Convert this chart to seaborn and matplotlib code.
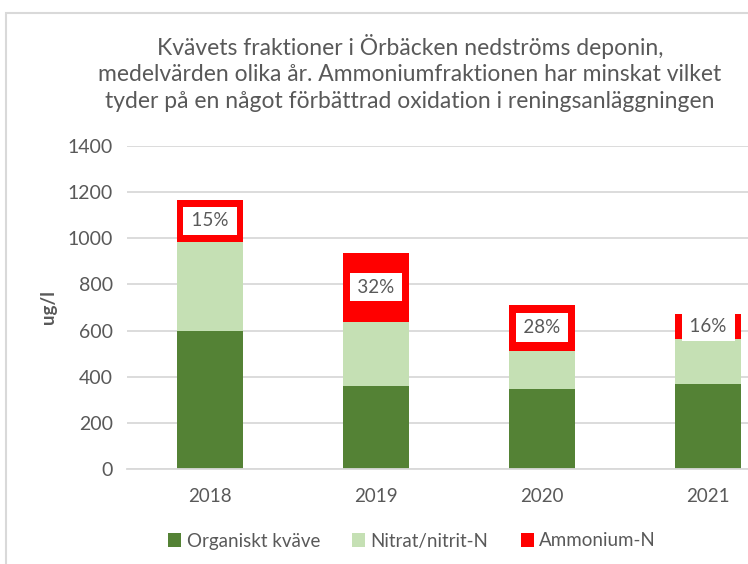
import numpy as np
import pandas as pd
import seaborn as sns
from matplotlib import pyplot as plt
from matplotlib.patches import Patch, Rectangle

# data (ug/l)
years = ['2018', '2019', '2020', '2021']
organiskt = [600, 360, 347, 370]
nitrat = [385, 278, 166, 193]
ammonium = [180, 300, 200, 108]
pct_labels = ['15%', '32%', '28%', '16%']

series_names = ['Organiskt kväve', 'Nitrat/nitrit-N', 'Ammonium-N']
colors = ['#548235', '#C5E0B4', '#FF0000']

title = ("Kvävets fraktioner i Örbäcken nedströms deponin,\n"
         "medelvärden olika år. Ammoniumfraktionen har minskat vilket\n"
         "tyder på en något förbättrad oxidation i reningsanläggningen")

sns.set_style("white")
plt.rcParams['font.family'] = ['Lato', 'DejaVu Sans']
text_col = '#595959'
grid_col = '#D9D9D9'

df = pd.DataFrame({'year': years, 'org': organiskt, 'nit': nitrat, 'amm': ammonium})
bottom_nit = df['org'].to_numpy()
bottom_amm = (df['org'] + df['nit']).to_numpy()

fig = plt.figure(figsize=(7.48, 5.64), dpi=100)
ax = fig.add_axes([127 / 748, 1 - 469 / 564, 664 / 748, 323 / 564])

sns.barplot(data=df, x='year', y='org', color=colors[0], width=0.4,
            saturation=1, linewidth=0, ax=ax, zorder=2)
sns.barplot(data=df, x='year', y='nit', bottom=bottom_nit, color=colors[1],
            width=0.4, saturation=1, linewidth=0, ax=ax, zorder=2)
sns.barplot(data=df, x='year', y='amm', bottom=bottom_amm, color=colors[2],
            width=0.4, saturation=1, linewidth=0, ax=ax, zorder=2)

# percent labels in white boxes, centred on the ammonium part
for i, lab in enumerate(pct_labels):
    ax.text(i, bottom_amm[i] + ammonium[i] / 2, '\u2009' + lab + '\u2009', ha='center',
            va='center', fontsize=13.5, color=text_col, zorder=4,
            bbox=dict(boxstyle='square,pad=0.3', facecolor='white', edgecolor='none'))

ax.set_ylim(0, 1400)
ax.set_xlim(-0.5, 3.5)
ax.set_yticks(range(0, 1401, 200))
ax.yaxis.grid(True, color=grid_col, linewidth=1.3, zorder=0)
ax.set_axisbelow(True)
for s in ['top', 'right', 'left']:
    ax.spines[s].set_visible(False)
ax.spines['bottom'].set_color(grid_col)
ax.spines['bottom'].set_linewidth(1.3)
ax.tick_params(axis='x', length=0, labelsize=13.5, labelcolor=text_col, pad=14)
ax.tick_params(axis='y', length=0, labelsize=14, labelcolor=text_col, pad=10)
ax.set_xlabel('')
ax.set_ylabel('ug/l', fontsize=13.5, fontweight='bold', color=text_col, labelpad=8)

fig.text(410 / 748, 1 - 73 / 564, title, ha='center', va='center',
         fontsize=16.5, color=text_col, linespacing=1.33)

handles = [Patch(facecolor=c, edgecolor='none') for c in colors]
fig.legend(handles, series_names, loc='center', bbox_to_anchor=(412 / 748, 1 - 541 / 564),
           ncol=3, frameon=False, fontsize=13.5, labelcolor=text_col,
           handlelength=0.7, handleheight=0.7, handletextpad=0.3, columnspacing=1.7)

# chart border (partly cropped in the original)
fig.patches.append(Rectangle((6 / 748, -0.2), 1.5, 1 - 13 / 564 + 0.2,
                             transform=fig.transFigure, fill=False,
                             edgecolor=grid_col, linewidth=1.5))

plt.savefig('out.png', dpi=100)
